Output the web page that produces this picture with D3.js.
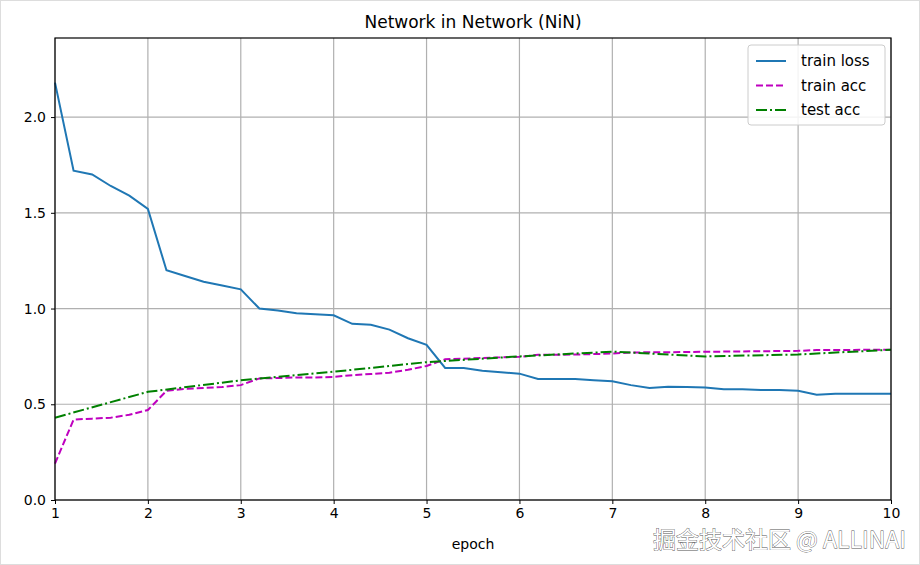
<!DOCTYPE html>
<head>
  <meta charset="UTF-8">
  <title>NiN</title>
  <style>
  body, html{ margin:0; padding:0; background:#fff; }
  svg{ display:block; font-family:"DejaVu Sans", sans-serif; }
  </style>
</head>
<body>
  <script src="https://cdn.jsdelivr.net/npm/d3@7"></script>
  <script>
  // 数据
  var epochs = d3.range(46).map(function(i){ return 1 + i * 0.2; });
  var trainLoss = [2.18,1.72,1.70,1.64,1.59,1.52,1.20,1.17,1.14,1.12,1.10,1.00,0.99,0.975,0.97,0.965,
    0.92,0.915,0.89,0.845,0.81,0.69,0.69,0.675,0.667,0.66,0.632,0.632,0.632,0.625,0.62,0.60,0.585,
    0.592,0.59,0.587,0.578,0.578,0.575,0.575,0.57,0.55,0.555,0.555,0.555,0.555];
  var trainAcc = [0.19,0.42,0.425,0.43,0.445,0.47,0.57,0.58,0.585,0.59,0.60,0.635,0.637,0.64,0.64,0.643,
    0.652,0.658,0.665,0.68,0.70,0.735,0.738,0.742,0.745,0.748,0.758,0.758,0.76,0.762,0.765,0.77,0.772,
    0.772,0.773,0.774,0.775,0.776,0.777,0.778,0.779,0.783,0.784,0.784,0.785,0.785];
  var testEpochs = [1,2,3,4,5,6,7,8,9,10];
  var testAcc = [0.43,0.565,0.625,0.67,0.72,0.75,0.775,0.75,0.76,0.785];
  var yTicks = [0.0,0.5,1.0,1.5,2.0];
  var xTicks = [1,2,3,4,5,6,7,8,9,10];

  var width = 920, height = 565;
  var svg = d3.select('body').append('svg').attr('width', width).attr('height', height);
  svg.append('rect').attr('x',0.5).attr('y',0.5).attr('width',width-1).attr('height',height-1)
    .attr('fill','#fff').attr('stroke','#ddd');

  var x = d3.scaleLinear().domain([1, 10]).range([55, 891]);
  var y = d3.scaleLinear().domain([0, 2.413]).range([500, 38]);

  // 网格
  var grid = svg.append('g');
  grid.selectAll('.gx').data(xTicks).enter().append('line')
    .attr('x1', x).attr('x2', x).attr('y1', 38).attr('y2', 500)
    .attr('stroke', '#b0b0b0').attr('stroke-width', 1.2);
  grid.selectAll('.gy').data(yTicks).enter().append('line')
    .attr('x1', 55).attr('x2', 891).attr('y1', y).attr('y2', y)
    .attr('stroke', '#b0b0b0').attr('stroke-width', 1.2);

  // 曲线
  var line = d3.line().x(function(d){ return x(d[0]); }).y(function(d){ return y(d[1]); });
  function draw(xs, ys, color, dash){
    svg.append('path').datum(d3.zip(xs, ys)).attr('d', line)
      .attr('fill', 'none').attr('stroke', color).attr('stroke-width', 2)
      .attr('stroke-dasharray', dash);
  }
  draw(epochs, trainLoss, '#1f77b4', null);
  draw(epochs, trainAcc, '#bf00bf', '7,3');
  draw(testEpochs, testAcc, '#008000', '11,3,2,3');

  // 坐标轴
  var xa = svg.append('g').attr('transform', 'translate(0,500)')
    .call(d3.axisBottom(x).tickValues(xTicks).tickFormat(d3.format('d')).tickSize(4).tickPadding(4));
  var ya = svg.append('g').attr('transform', 'translate(55,0)')
    .call(d3.axisLeft(y).tickValues(yTicks).tickFormat(d3.format('.1f')).tickSize(4).tickPadding(5));
  [xa, ya].forEach(function(a){
    a.select('.domain').remove();
    a.selectAll('text').attr('font-size', 14).attr('fill', '#000').attr('font-family', '"DejaVu Sans", sans-serif');
    a.selectAll('line').attr('stroke', '#000');
  });
  svg.append('rect').attr('x', 55).attr('y', 38).attr('width', 836).attr('height', 462)
    .attr('fill', 'none').attr('stroke', '#000').attr('stroke-width', 1.2);

  svg.append('text').attr('x', 473).attr('y', 28).attr('text-anchor', 'middle')
    .attr('font-size', 17).text('Network in Network (NiN)');
  svg.append('text').attr('x', 473).attr('y', 549).attr('text-anchor', 'middle')
    .attr('font-size', 14).text('epoch');

  // 图例
  var items = [
    {name:'train loss', color:'#1f77b4', dash:null},
    {name:'train acc', color:'#bf00bf', dash:'7,3'},
    {name:'test acc', color:'#008000', dash:'11,3,2,3'}
  ];
  var lg = svg.append('g').attr('transform', 'translate(748,45)');
  lg.append('rect').attr('width', 137).attr('height', 80).attr('rx', 3)
    .attr('fill', '#fff').attr('fill-opacity', 0.85).attr('stroke', '#ccc');
  var li = lg.selectAll('g').data(items).enter().append('g')
    .attr('transform', function(d, i){ return 'translate(8,' + (16 + i * 24.5) + ')'; });
  li.append('line').attr('x1', 0).attr('x2', 30).attr('stroke', function(d){ return d.color; })
    .attr('stroke-width', 2).attr('stroke-dasharray', function(d){ return d.dash; });
  li.append('text').attr('x', 45).attr('y', 5).attr('font-size', 15).text(function(d){ return d.name; });

  // 水印
  svg.append('text').attr('x', 906).attr('y', 548).attr('text-anchor', 'end')
    .attr('font-size', 23).attr('font-family', '"Noto Sans CJK SC", sans-serif')
    .attr('fill', '#fff').attr('stroke', '#555').attr('stroke-width', 0.8).attr('paint-order', 'stroke')
    .text('掘金技术社区 @ ALLINAI');
  </script>
</body>
</html>
